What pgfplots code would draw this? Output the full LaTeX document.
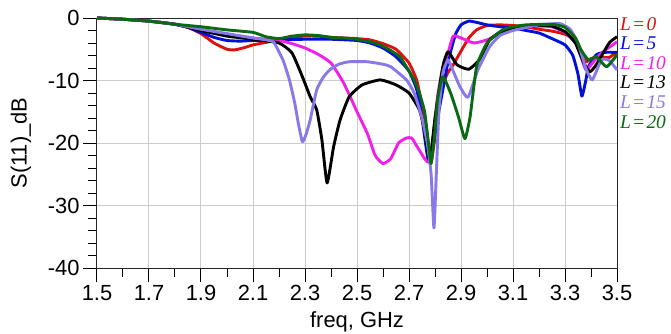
\documentclass[border=0pt]{standalone}
\usepackage{fontspec}
\setmainfont{Liberation Sans}
\newfontfamily\serifit{Liberation Serif}
\usepackage{pgfplots}
\pgfplotsset{compat=1.18}
\definecolor{cred}{HTML}{E01010}
\definecolor{cblue}{HTML}{0010D8}
\definecolor{cmag}{HTML}{F020E8}
\definecolor{cblk}{HTML}{000000}
\definecolor{clav}{HTML}{8878E8}
\definecolor{cgrn}{HTML}{0A6A14}
\begin{document}
\begin{tikzpicture}
\begin{axis}[
  scale only axis, width=520bp, height=250bp,
  xmin=1.5, xmax=3.5, ymin=-40, ymax=0,
  xtick={1.5,1.7,...,3.5}, ytick={-40,-30,...,0},
  minor xtick={1.6,1.8,...,3.4},
  minor ytick={-38,-36,-34,-32,-28,-26,-24,-22,-18,-16,-14,-12,-8,-6,-4,-2},
  xticklabels={1.5,1.7,1.9,2.1,2.3,2.5,2.7,2.9,3.1,3.3,3.5},
  yticklabels={-40,-30,-20,-10,0},
  tick align=outside, major tick length=14bp, minor tick length=8.5bp,
  tick style={black, line width=1bp},
  xtick pos=bottom, ytick pos=left,
  grid=major, major grid style={gray!40, line width=1bp},
  minor grid style={draw=none},
  axis line style={black!85, line width=1bp},
  ticklabel style={font=\fontsize{22}{25}\selectfont},
  /pgf/number format/assume math mode=true,
  clip=false,
  every axis plot/.append style={line width=2.9bp, line join=round, smooth, tension=0.3},
]
\addplot[cred] coordinates {(1.5,0)(1.6,-0.2)(1.7,-0.5)(1.8,-1.0)(1.85,-1.5)(1.9,-2.5)(1.95,-4.0)(2.0,-5.0)(2.03,-5.1)(2.07,-4.7)(2.1,-4.3)(2.15,-3.9)(2.2,-3.5)(2.25,-3.1)(2.3,-2.9)(2.35,-2.9)(2.4,-3.1)(2.45,-3.2)(2.5,-3.3)(2.55,-3.5)(2.6,-4.1)(2.65,-5.0)(2.7,-7.2)(2.73,-10)(2.75,-14)(2.77,-19)(2.785,-23)(2.8,-19)(2.82,-12.5)(2.845,-9.1)(2.87,-7.5)(2.9,-5.3)(2.93,-3.2)(2.96,-1.9)(3.0,-1.2)(3.05,-1.1)(3.1,-1.2)(3.15,-1.4)(3.2,-1.8)(3.25,-2.1)(3.3,-2.6)(3.34,-3.5)(3.36,-5)(3.38,-7.0)(3.4,-6.5)(3.42,-6.3)(3.45,-6.3)(3.47,-6.3)(3.5,-5.5)};
\addplot[cblue] coordinates {(1.5,0)(1.6,-0.2)(1.7,-0.5)(1.8,-1.0)(1.85,-1.5)(1.9,-2.3)(1.95,-3.1)(2.0,-3.6)(2.05,-3.7)(2.1,-3.6)(2.2,-3.5)(2.3,-3.4)(2.4,-3.4)(2.5,-3.6)(2.55,-4.0)(2.6,-4.8)(2.65,-6.2)(2.7,-8.5)(2.73,-11.5)(2.75,-16)(2.76,-19)(2.775,-23)(2.79,-21)(2.81,-16)(2.83,-11.5)(2.85,-7)(2.865,-4.6)(2.88,-2.5)(2.9,-1.1)(2.93,-0.5)(2.96,-0.7)(3.0,-1.1)(3.05,-1.4)(3.1,-1.6)(3.15,-2.0)(3.2,-2.4)(3.25,-3.3)(3.3,-4.3)(3.33,-6)(3.35,-9)(3.365,-12.5)(3.38,-10)(3.39,-7.8)(3.42,-5.9)(3.45,-5.5)(3.5,-5.5)};
\addplot[cmag] coordinates {(1.5,0)(1.6,-0.2)(1.7,-0.5)(1.8,-1.0)(1.9,-1.9)(2.0,-2.6)(2.1,-3.2)(2.2,-3.6)(2.25,-4.1)(2.3,-4.8)(2.35,-5.8)(2.4,-7.2)(2.45,-10.5)(2.5,-15)(2.54,-18.5)(2.57,-22)(2.6,-23.3)(2.63,-22.5)(2.66,-20)(2.69,-19.2)(2.71,-19.2)(2.73,-20.5)(2.76,-22.5)(2.775,-23)(2.79,-20)(2.81,-12.5)(2.83,-8)(2.85,-5.6)(2.87,-2.9)(2.9,-3.2)(2.95,-4.0)(3.0,-3.5)(3.05,-2.6)(3.1,-1.8)(3.15,-1.4)(3.2,-1.3)(3.25,-1.4)(3.3,-2.3)(3.34,-4)(3.36,-6)(3.38,-8.3)(3.4,-7.5)(3.43,-6)(3.46,-5)(3.5,-3.8)};
\addplot[cblk] coordinates {(1.5,0)(1.6,-0.2)(1.7,-0.5)(1.8,-1.0)(1.9,-2.0)(2.0,-2.9)(2.1,-3.4)(2.2,-4.0)(2.25,-5.6)(2.29,-9.4)(2.32,-12.6)(2.345,-14.7)(2.365,-19.5)(2.385,-26.4)(2.41,-20.6)(2.435,-16.3)(2.47,-12.6)(2.52,-10.7)(2.59,-9.9)(2.65,-10.7)(2.7,-12.0)(2.74,-14.7)(2.76,-18)(2.78,-23)(2.8,-16)(2.83,-7.8)(2.85,-5.4)(2.885,-7.5)(2.93,-8.2)(2.97,-6.7)(3.01,-3.5)(3.05,-2.3)(3.1,-1.8)(3.2,-1.2)(3.25,-1.3)(3.3,-2.2)(3.34,-4)(3.37,-7)(3.395,-8.6)(3.42,-7.5)(3.47,-4)(3.5,-3.0)};
\addplot[clav] coordinates {(1.5,0)(1.6,-0.2)(1.7,-0.5)(1.8,-1.0)(1.9,-1.8)(2.0,-2.5)(2.1,-3.2)(2.15,-3.5)(2.18,-3.9)(2.215,-6.7)(2.24,-9.9)(2.26,-13.5)(2.275,-17)(2.29,-19.8)(2.305,-18.5)(2.32,-16.3)(2.345,-11.5)(2.37,-9.5)(2.395,-8.3)(2.43,-7.4)(2.47,-7.0)(2.54,-7.0)(2.6,-7.4)(2.63,-7.8)(2.69,-9.9)(2.72,-12)(2.75,-16)(2.77,-20)(2.785,-25)(2.796,-33.6)(2.805,-25)(2.815,-15)(2.83,-8.8)(2.85,-6.7)(2.87,-8.5)(2.896,-11)(2.927,-12.7)(2.965,-8.3)(3.01,-4.6)(3.05,-2.8)(3.1,-2.0)(3.2,-1.1)(3.28,-0.9)(3.32,-1.8)(3.35,-4)(3.38,-8)(3.405,-9.9)(3.44,-6.7)(3.47,-6.8)(3.5,-8.3)};
\addplot[cgrn] coordinates {(1.5,0)(1.6,-0.2)(1.7,-0.5)(1.8,-1.0)(1.9,-1.4)(2.0,-1.9)(2.1,-2.3)(2.15,-3.0)(2.2,-3.3)(2.25,-2.9)(2.3,-2.7)(2.35,-2.8)(2.4,-3.1)(2.45,-3.2)(2.5,-3.4)(2.55,-3.8)(2.59,-4.3)(2.63,-5.2)(2.665,-6.2)(2.69,-7.8)(2.72,-9.9)(2.74,-12)(2.76,-15)(2.775,-20)(2.785,-23.3)(2.8,-18)(2.81,-13)(2.83,-9.4)(2.86,-12)(2.89,-15.8)(2.915,-19.3)(2.935,-15.8)(2.96,-7.8)(3.0,-4.0)(3.06,-1.9)(3.1,-1.4)(3.15,-1.1)(3.25,-1.0)(3.3,-1.5)(3.34,-3.2)(3.36,-5)(3.39,-6.7)(3.42,-6.2)(3.46,-7.8)(3.5,-5.9)};
\coordinate (sw) at (rel axis cs:0,0);
\coordinate (ne) at (rel axis cs:1,1);
\coordinate (lx) at (rel axis cs:0.5,0);
\coordinate (ly) at (rel axis cs:0,0.5);
\begin{scope}[every node/.style={anchor=base west, inner sep=0pt, xshift=3bp, font=\serifit\itshape\fontsize{19.5}{21}\selectfont}]
\node[text=cred] at (axis cs:3.5,-1.92) {L\hspace{1.2bp}=\hspace{1.2bp}0};
\node[text=cblue] at (axis cs:3.5,-5.06) {L\hspace{1.2bp}=\hspace{1.2bp}5};
\node[text=cmag] at (axis cs:3.5,-8.19) {L\hspace{1.2bp}=\hspace{1.2bp}10};
\node[text=cblk] at (axis cs:3.5,-11.33) {L\hspace{1.2bp}=\hspace{1.2bp}13};
\node[text=clav] at (axis cs:3.5,-14.46) {L\hspace{1.2bp}=\hspace{1.2bp}15};
\node[text=cgrn] at (axis cs:3.5,-17.6) {L\hspace{1.2bp}=\hspace{1.2bp}20};
\end{scope}
\end{axis}
\node[font=\fontsize{22}{25}\selectfont] at ([yshift=-54bp]lx) {freq, GHz};
\node[rotate=90, font=\fontsize{22}{25}\selectfont] at ([xshift=-76bp]ly) {S(11)\_dB};
\pgfresetboundingbox
\path[use as bounding box] ([shift={(-97bp,-66bp)}]sw) rectangle ([shift={(54bp,18bp)}]ne);
\end{tikzpicture}
\end{document}
